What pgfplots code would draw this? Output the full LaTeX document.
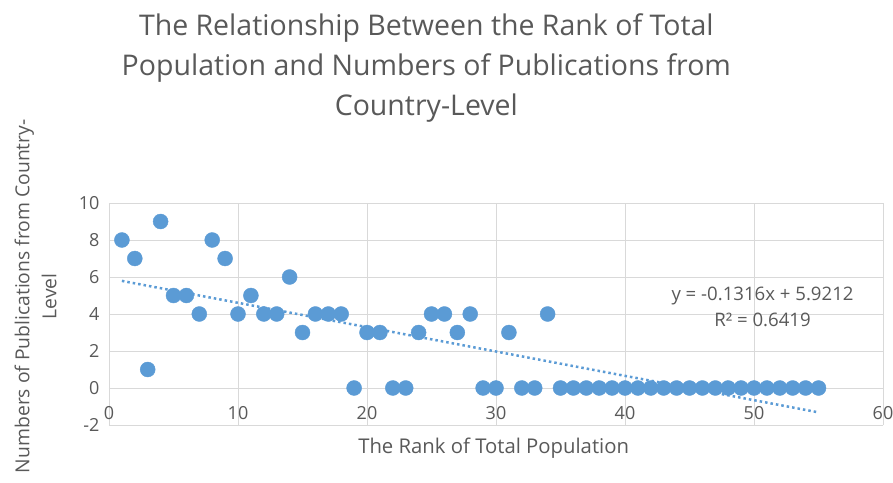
\documentclass[border=0pt]{standalone}
\usepackage{pgfplots}
\pgfplotsset{compat=1.18}
\usepackage{fontspec}
\setmainfont{Open Sans}
\definecolor{xlblue}{HTML}{5B9BD5}
\definecolor{xlgrid}{HTML}{D9D9D9}
\definecolor{xltext}{HTML}{595959}
\begin{document}
\begin{tikzpicture}
\useasboundingbox (-109pt,-57pt) rectangle (784pt,425pt);
\begin{axis}[
  at={(0,0)}, anchor=south west,
  scale only axis, width=774pt, height=222pt,
  xmin=0, xmax=60, ymin=-2, ymax=10,
  xtick={0,10,...,60}, ytick={-2,0,...,10},
  grid=major, grid style={color=xlgrid, line width=0.8pt},
  axis line style={draw=none},
  major tick length=0pt,
  /pgf/number format/assume math mode=true,
  tick label style={font=\fontsize{18}{21}\selectfont, text=xltext},
  xticklabel style={anchor=center, yshift=12pt},
  yticklabel style={xshift=-6pt},
  title={The Relationship Between the Rank of Total\\Population and Numbers of Publications from\\Country-Level},
  title style={at={(axis description cs:0.410,1.84)}, anchor=north, align=center,
    font=\fontsize{28.5}{40}\selectfont, text=xltext},
  xlabel={The Rank of Total Population},
  xlabel style={at={(axis description cs:0.497,-0.104)}, anchor=center,
    font=\fontsize{20.3}{24}\selectfont, text=xltext},
  ylabel={Numbers of Publications from Country-\\Level},
  ylabel style={at={(axis description cs:-0.095,0.58)}, anchor=center, align=center,
    font=\fontsize{19.3}{27}\selectfont, text=xltext},
  clip=false,
]
\addplot[only marks, mark=*, mark size=7.5pt, color=xlblue, mark options={draw=xlblue, fill=xlblue}]
coordinates {
(1,8) (2,7) (3,1) (4,9) (5,5) (6,5) (7,4) (8,8) (9,7) (10,4)
(11,5) (12,4) (13,4) (14,6) (15,3) (16,4) (17,4) (18,4) (19,0) (20,3)
(21,3) (22,0) (23,0) (24,3) (25,4) (26,4) (27,3) (28,4) (29,0) (30,0)
(31,3) (32,0) (33,0) (34,4) (35,0) (36,0) (37,0) (38,0) (39,0) (40,0)
(41,0) (42,0) (43,0) (44,0) (45,0) (46,0) (47,0) (48,0) (49,0) (50,0)
(51,0) (52,0) (53,0) (54,0) (55,0)
};
\addplot[color=xlblue, line width=2.5pt, dash pattern=on 2.5pt off 3pt, no marks]
coordinates {(1,5.7896) (55,-1.3168)};
\node[align=center, font=\fontsize{18.6}{26}\selectfont, text=xltext] at (axis cs:50.66,4.4)
  {y = -0.1316x + 5.9212\\R² = 0.6419};
\end{axis}
\end{tikzpicture}
\end{document}
